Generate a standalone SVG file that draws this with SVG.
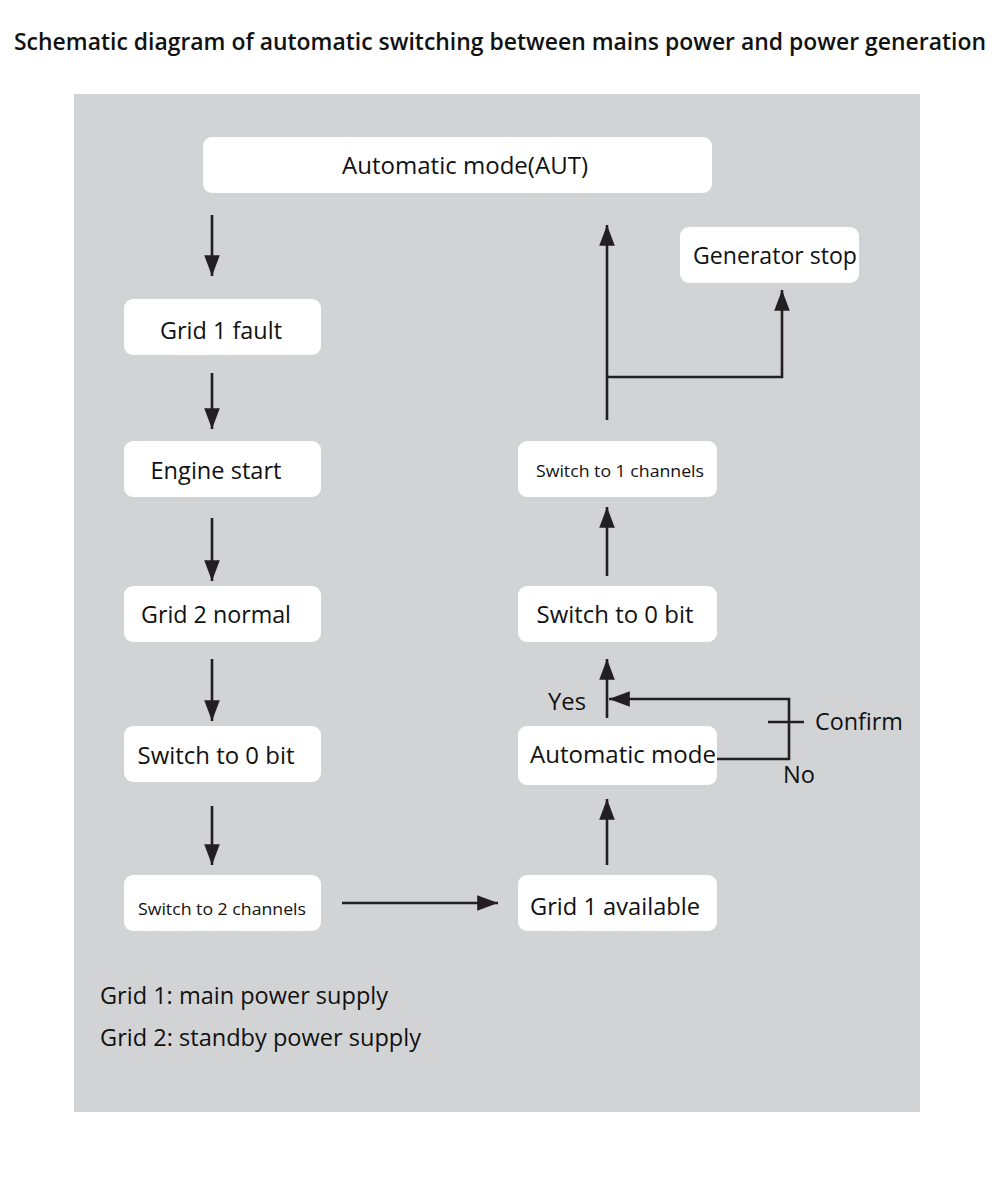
<svg xmlns="http://www.w3.org/2000/svg" width="1000" height="1198" viewBox="0 0 1000 1198">
<defs>
<marker id="ah" markerWidth="8" markerHeight="6" refX="8" refY="3" orient="auto" markerUnits="strokeWidth">
<path d="M0,0 L8,3 L0,6 Z" fill="#231f20"/>
</marker>
<style>
.node rect{fill:#ffffff}
text{font-family:"Open Sans","Liberation Sans",sans-serif;fill:#111111}
.t{font-size:23px;text-anchor:middle}
.s{font-size:16.5px;text-anchor:middle}
.l{font-size:23px}
.c line,.c path{stroke:#231f20;stroke-width:2.6;fill:none}
.a{marker-end:url(#ah)}
</style>
</defs>
<rect x="0" y="0" width="1000" height="1198" fill="#ffffff"/>
<text x="500" y="50" font-size="22.5" font-weight="600" text-anchor="middle" textLength="972" lengthAdjust="spacingAndGlyphs">Schematic diagram of automatic switching between mains power and power generation</text>
<rect x="74" y="94" width="846" height="1018" fill="#d1d3d5"/>

<g id="n_aut" class="node"><rect x="203" y="137" width="509" height="56" rx="9"/><text class="t" x="465" y="174" textLength="246" lengthAdjust="spacingAndGlyphs">Automatic mode(AUT)</text></g>
<g id="n_fault" class="node"><rect x="124" y="299" width="197" height="56" rx="9"/><text class="t" x="221" y="339" textLength="122" lengthAdjust="spacingAndGlyphs">Grid 1 fault</text></g>
<g id="n_engine" class="node"><rect x="124" y="441" width="197" height="56" rx="9"/><text class="t" x="216" y="479" textLength="131" lengthAdjust="spacingAndGlyphs">Engine start</text></g>
<g id="n_grid2" class="node"><rect x="124" y="586" width="197" height="56" rx="9"/><text class="t" x="216" y="623" textLength="150" lengthAdjust="spacingAndGlyphs">Grid 2 normal</text></g>
<g id="n_sw0l" class="node"><rect x="124" y="726" width="197" height="56" rx="9"/><text class="t" x="216" y="764" textLength="157" lengthAdjust="spacingAndGlyphs">Switch to 0 bit</text></g>
<g id="n_sw2" class="node"><rect x="124" y="875" width="197" height="56" rx="9"/><text class="s" x="222" y="915" textLength="168" lengthAdjust="spacingAndGlyphs">Switch to 2 channels</text></g>
<g id="n_g1a" class="node"><rect x="518" y="875" width="199" height="56" rx="9"/><text class="t" x="615" y="915" textLength="170" lengthAdjust="spacingAndGlyphs">Grid 1 available</text></g>
<g id="n_autr" class="node"><rect x="518" y="726" width="199" height="59" rx="9"/><text class="t" x="623" y="763" textLength="186" lengthAdjust="spacingAndGlyphs">Automatic mode</text></g>
<g id="n_sw0r" class="node"><rect x="518" y="586" width="199" height="56" rx="9"/><text class="t" x="615" y="623" textLength="157" lengthAdjust="spacingAndGlyphs">Switch to 0 bit</text></g>
<g id="n_sw1" class="node"><rect x="518" y="441" width="199" height="56" rx="9"/><text class="s" x="620" y="477" textLength="168" lengthAdjust="spacingAndGlyphs">Switch to 1 channels</text></g>
<g id="n_stop" class="node"><rect x="680" y="227" width="179" height="56" rx="9"/><text class="t" x="775" y="264" textLength="164" lengthAdjust="spacingAndGlyphs">Generator stop</text></g>

<g id="connectors" class="c">
<line class="a" x1="212" y1="215" x2="212" y2="276"/>
<line class="a" x1="212" y1="373" x2="212" y2="429"/>
<line class="a" x1="212" y1="518" x2="212" y2="581"/>
<line class="a" x1="212" y1="659" x2="212" y2="721"/>
<line class="a" x1="212" y1="806" x2="212" y2="865"/>
<line class="a" x1="342" y1="903" x2="498" y2="903"/>
<line class="a" x1="607" y1="865" x2="607" y2="799"/>
<line class="a" x1="607" y1="718" x2="607" y2="659"/>
<path class="a" d="M717,759 L789,759 L789,699 L609,699"/>
<line x1="768" y1="722" x2="804" y2="722"/>
<line class="a" x1="607" y1="576" x2="607" y2="507"/>
<line class="a" x1="607" y1="420" x2="607" y2="225"/>
<path class="a" d="M607,377 L782,377 L782,290"/>
</g>

<text class="l" x="548" y="710" textLength="38" lengthAdjust="spacingAndGlyphs">Yes</text>
<text class="l" x="815" y="730" textLength="88" lengthAdjust="spacingAndGlyphs">Confirm</text>
<text class="l" x="783" y="783" textLength="32" lengthAdjust="spacingAndGlyphs">No</text>

<text class="l" x="100" y="1004" textLength="288" lengthAdjust="spacingAndGlyphs">Grid 1: main power supply</text>
<text class="l" x="100" y="1046" textLength="321" lengthAdjust="spacingAndGlyphs">Grid 2: standby power supply</text>
</svg>
